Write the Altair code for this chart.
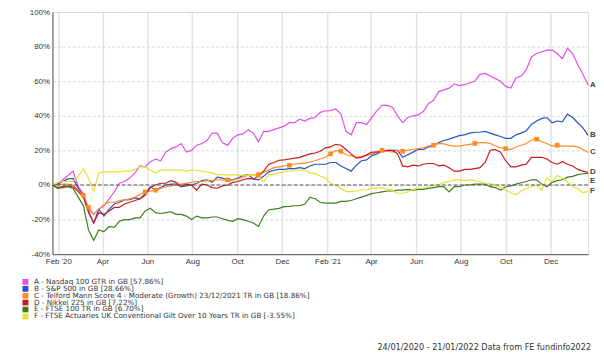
import altair as alt
import pandas as pd

# weekly observation dates, 24/01/2020 .. 21/01/2022
dates = [d.strftime("%Y-%m-%d") for d in pd.date_range("2020-01-24", "2022-01-21", freq="7D")]

series_names = [
    "A - Nasdaq 100 GTR in GB [57.86%]",
    "B - S&P 500 in GB [28.66%]",
    "C - Telford Mann Score 4 - Moderate (Growth) 23/12/2021 TR in GB [18.86%]",
    "D - Nikkei 225 in GB [7.22%]",
    "E - FTSE 100 TR in GB [6.70%]",
    "F - FTSE Actuaries UK Conventional Gilt Over 10 Years TR in GB [-3.55%]",
]
colors = ["#e44fe4", "#2a52c6", "#ff8a24", "#cc1818", "#3d7d1e", "#e2e232"]

a_vals = [0, 0.5, 3, 5.5, 8, -1, -5, -14, -17, -14, -12, -8, -4, 1, 2,
          4, 7, 11, 10.5, 13.5, 15, 14, 19, 21, 22, 24, 19, 20, 23, 24, 25.7, 30, 30,
          24.5, 22.9, 27, 29, 29.5, 32, 30, 25, 31, 31, 32, 33, 34, 36, 36, 38,
          37, 38.5, 39, 42, 42.9, 43, 44, 41, 31, 29, 36, 36, 35, 39, 43, 46, 46, 45,
          40, 36, 39, 40, 40.5, 42.5, 47, 49, 54, 55, 56, 58.5, 57.5, 58, 59, 60, 64, 64.5,
          63, 61.5, 60, 57, 56, 62, 63, 66.7, 74, 76, 77, 78, 78, 76, 73, 79, 76,
          69.5, 64, 57.86]
b_vals = [0, 0.5, 2, 3.5, 3.8, -2, -6, -15, -22, -14, -18, -14, -11, -10, -8.6,
          -8.5, -7.5, -8, -5, -1, -3, -1.5, 0, 0.5, 0.5, -1, -0.5, 0, 1, 2.5, 3, 1.5, 4.5,
          4, 3, 3, 4, 5.5, 6, 3.5, 3, 5, 7.6, 8.5, 9, 9, 9.5, 9.5, 10,
          9.5, 11, 12, 12, 12, 13, 13, 11, 9.5, 8, 11.5, 14, 14.5, 17, 18, 19.5, 20, 20,
          20, 16, 17.5, 19, 20.5, 20.5, 22, 22.5, 24.5, 25.7, 26.5, 27.5, 28.5, 29, 30, 30.5, 30.5, 31,
          30, 29, 28, 27, 27, 29, 30, 31.4, 35, 37, 38.5, 39, 36, 37, 36.5, 41, 39,
          36, 33, 28.66]
c_vals = [0, 0, 0.5, 0.5, 0, -3, -6, -13, -17, -14, -11.5, -10, -10, -9, -8.6,
          -8, -7, -5.5, -4, -3.5, -3, -2, -1, -0.5, 0, 0.5, 1, 1.5, 2, 2, 2.5, 2.5, 3,
          3, 3, 3, 3.5, 4.5, 5.7, 5.7, 6, 7.5, 8.6, 10, 10.5, 11, 11.4, 12, 12.5,
          12.5, 13.3, 14, 15, 16, 18, 20, 19.5, 17.5, 17, 16, 16.5, 17, 18, 19, 20, 19.5, 19,
          20, 19.5, 20, 20.5, 21, 21.5, 22.5, 23, 24, 23.8, 23, 22.5, 22.5, 23, 23.5, 24, 24.5, 24.5,
          24, 22.5, 21.5, 21, 20.5, 22, 23, 24, 26, 26.5, 25, 24, 22.5, 23, 22.5, 22.5, 22.5,
          22, 20.5, 18.86]
d_vals = [0, -1.5, -1, -0.5, -1, -3.8, -7, -16, -22, -16, -17, -15, -13, -13, -11,
          -10, -9, -8, -6, -1.5, 0, 1, 1, 2.5, 1.5, -1, 0.5, 0, -3, 0.5, 0, -1.5, -1.9,
          -0.5, 0, 1.5, 2, 3, 3.8, 3.5, 5, 8, 12, 13, 14.3, 14.5, 15, 15.5, 16,
          17, 18, 18.5, 19.5, 21.5, 22, 23.5, 23, 20.5, 18, 15.5, 16, 17.5, 19, 19, 19.5, 20, 20,
          18, 11, 10.5, 11.5, 11, 12, 12.4, 12.4, 11, 11.5, 10, 8, 8, 9, 9, 9.5, 10, 13,
          20, 20.5, 19, 14, 10.5, 10.5, 11.5, 12, 16, 16, 16, 15, 13, 12, 13.5, 12, 11,
          9, 8, 7.22]
e_vals = [0, -2, -1.5, -1, -2, -7, -12, -26, -32, -26, -27, -24, -24.5, -21, -20,
          -20, -19, -19, -15, -13.5, -16, -16.5, -16, -15.5, -17, -17, -18, -20, -18, -19, -19, -18.5, -18.5,
          -19.5, -20.5, -21, -19.5, -20, -21, -22, -24, -18, -14.3, -14, -13.5, -12.5, -12.4, -12, -12,
          -11, -7, -8, -10, -10.5, -10.5, -10.5, -9.5, -9.5, -9, -8, -7, -6, -5, -4.5, -4, -3.5, -3.5,
          -3, -3, -2.5, -3, -2.5, -2.5, -2, -1.5, -1, -1, -4, -1, -1, 0, 0, 0.5, 0.5, 0.5,
          -1, -1.5, -2.9, -1, -0.5, 0.5, 1.3, 2, 3, 3, 0.5, -1, 1.5, 2.5, 3, 4.5, 5,
          6, 6.5, 6.70]
f_vals = [0, 1.5, 2, 2, 2, 5, 9.5, 4, -3.8, 7, 7.6, 7.6, 7.6, 7.6, 8,
          8, 9, 10.5, 10.5, 8.6, 7, 8.6, 8.6, 8.6, 8.6, 8.6, 8, 8.6, 8.5, 8, 7.5, 7, 6,
          6, 5.7, 6, 5.7, 5.7, 5.5, 5.7, 4.5, 2, 6, 6, 7, 7.5, 8, 8.6, 8.6,
          8.6, 7, 6.7, 5, 4, 1, 0, -2, -3.8, -3.8, -3.5, -3, -2.9, -2, -2, -1.5, -2.5, -3,
          -4.8, -4.8, -4, -2.5, -2, -1.9, -1, 0, 0, 1.5, 2, 2.9, 2.9, 2.5, 3, 2.5, 2, 1,
          1, 0, -1.5, -2.9, -4.5, -5.7, -3.5, -2, -1, 0, -3, 4, 2, 5.5, 4, 2, -1,
          -2, -4.5, -3.55]

c_marker_dates = ["2020-03-06", "2020-03-13", "2020-05-29", "2020-06-12", "2020-09-18",
                  "2020-10-30", "2020-12-11", "2021-02-05", "2021-02-19", "2021-04-16",
                  "2021-05-14", "2021-06-25", "2021-08-20", "2021-10-01", "2021-11-12",
                  "2021-12-10"]

y_ticks = [-40, -20, 0, 20, 40, 60, 80, 100]

end_labels = ["A", "B", "C", "D", "E", "F"]
end_label_vals = [57.86, 28.66, 18.86, 7.22, 2.3, -3.55]

footer = "24/01/2020 - 21/01/2022 Data from FE fundinfo2022"

all_vals = [a_vals, b_vals, c_vals, d_vals, e_vals, f_vals]
for v in all_vals:
    assert len(v) == len(dates), (len(v), len(dates))

rows = []
for name, vals in zip(series_names, all_vals):
    for d, v in zip(dates, vals):
        rows.append({"date": d, "value": v, "series": name})
df = pd.DataFrame(rows)

c_df = df[(df["series"] == series_names[2]) & (df["date"].isin(c_marker_dates))]
lab_df = pd.DataFrame({"date": [dates[-1]] * 6, "value": end_label_vals, "label": end_labels})
zero_df = pd.DataFrame({"value": [0]})

font = "Liberation Sans"
lfont = "DejaVu Sans"

x_scale = alt.Scale(type="utc",
                    domain=[alt.DateTime(year=2020, month=1, date=24, utc=True),
                            alt.DateTime(year=2022, month=1, date=21, utc=True)])
x_axis = alt.Axis(
    values=[alt.DateTime(year=y, month=m, date=1, utc=True)
            for y in (2020, 2021) for m in (2, 4, 6, 8, 10, 12)],
    labelExpr="utcFormat(datum.value, '%m') == '02' ? utcFormat(datum.value, \"%b '%y\") : utcFormat(datum.value, '%b')",
    title=None, ticks=False, labelFontSize=8, labelColor="#333", labelPadding=3,
    domainColor="#555", gridColor="#e2e2e2", gridWidth=1.5, labelFont=font,
    labelOverlap=False,
)
y_scale = alt.Scale(domain=[-40, 100], nice=False)
y_axis = alt.Axis(
    values=y_ticks, tickCount=8,
    labelExpr="datum.value + '%'",
    title=None, ticks=False, labelFontSize=8, labelColor="#333", labelPadding=3,
    domainColor="#555", gridColor="#d6d6d6", gridDash=[3, 2], labelFont=font,
    labelOverlap=False, labelBound=False,
)

def X():
    return alt.X("date:T", scale=x_scale, axis=x_axis)

def Y():
    return alt.Y("value:Q", scale=y_scale, axis=y_axis)

color_enc = alt.Color(
    "series:N",
    scale=alt.Scale(domain=series_names, range=colors),
    sort=series_names,
    legend=alt.Legend(
        orient="none", legendX=-31, legendY=270, direction="vertical", title=None,
        symbolType="square", symbolSize=9, symbolStrokeWidth=3, labelFontSize=7.3,
        labelFont=lfont, labelColor="#333", rowPadding=-2, clipHeight=6, labelLimit=0,
        padding=0, labelOffset=5,
    ),
)

lines = alt.Chart(df).mark_line(strokeWidth=1.2).encode(
    x=X(), y=Y(), color=color_enc, order=alt.Order("date:T")
)

zero = alt.Chart(zero_df).mark_rule(
    color="#555", strokeDash=[4, 2], strokeWidth=1
).encode(y=Y())

markers = alt.Chart(c_df).mark_square(size=22, color=colors[2], opacity=1).encode(
    x=X(), y=Y()
)

labels = alt.Chart(lab_df).mark_text(
    align="left", baseline="middle", dx=2, fontSize=8, fontWeight="bold",
    color="#444", font=font
).encode(x=X(), y=Y(), text="label:N")

foot = alt.Chart(pd.DataFrame({"t": [footer]})).mark_text(
    align="right", baseline="middle", fontSize=8.2, color="#333", font=lfont
).encode(x=alt.value(545), y=alt.value(340), text="t:N")

chart = alt.layer(lines, zero, markers, labels, foot).properties(
    width=542, height=245,
    autosize="none",
    padding={"left": 45, "top": 2, "right": 8, "bottom": 103},
).configure_view(stroke="#d0d0d0").configure(font=font).configure_axisY(labelOverlap=False)

chart.save("out.html", embed_options={"renderer": "svg", "actions": False})
